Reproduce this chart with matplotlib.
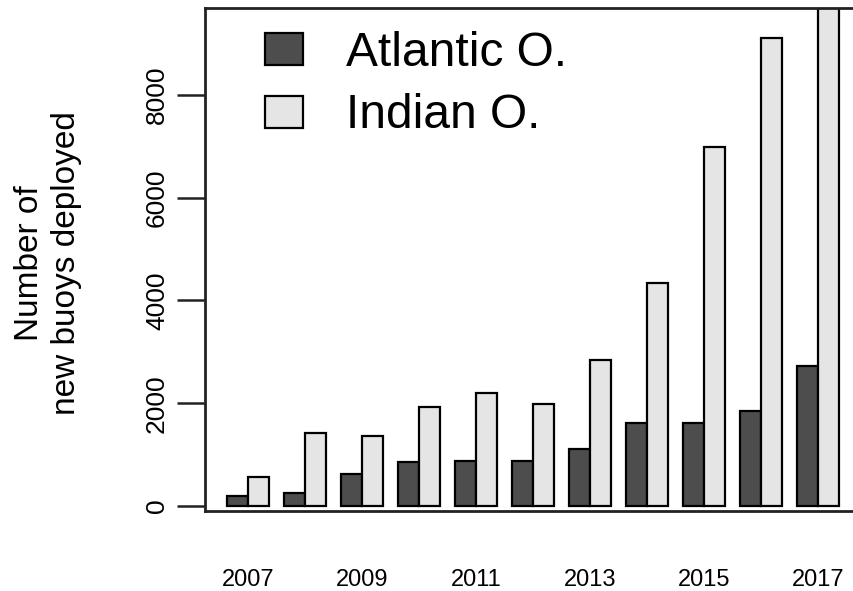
import matplotlib
matplotlib.use("Agg")
import matplotlib.pyplot as plt
import numpy as np

plt.rcParams['font.family'] = ['Liberation Sans', 'DejaVu Sans']

years = [2007, 2008, 2009, 2010, 2011, 2012, 2013, 2014, 2015, 2016, 2017]
atlantic = [200, 250, 620, 850, 880, 880, 1110, 1620, 1620, 1840, 2730]
indian = [560, 1420, 1360, 1920, 2200, 1985, 2840, 4340, 6990, 9110, 10400]
xtick_years = [2007, 2009, 2011, 2013, 2015, 2017]
yticks = [0, 2000, 4000, 6000, 8000]
series_names = ["Atlantic O.", "Indian O."]
colors = ["#4d4d4d", "#e5e5e5"]

W, H = 854, 591
fig = plt.figure(figsize=(W / 100, H / 100), dpi=100)
left_px, right_px, top_px, bottom_px = 205, 880, 8, 511
ax = fig.add_axes([left_px / W, (H - bottom_px) / H,
                   (right_px - left_px) / W, (bottom_px - top_px) / H])

bw = 0.36
x = np.array(years, dtype=float)
ax.bar(x - bw / 2, atlantic, width=bw, color=colors[0], edgecolor="black",
       linewidth=1.6, label=series_names[0])
ax.bar(x + bw / 2, indian, width=bw, color=colors[1], edgecolor="black",
       linewidth=1.6, label=series_names[1])

px_per_unit = 57.0
x0 = 2007 - (248 - left_px) / px_per_unit
ax.set_xlim(x0, x0 + (right_px - left_px) / px_per_unit)
ax.set_ylim(-97, 9690)

ax.set_xticks(xtick_years)
ax.set_xticklabels([str(y) for y in xtick_years])
ax.tick_params(axis='x', length=0, pad=42, labelsize=17)
ax.set_yticks(yticks)
ax.set_yticklabels([str(v) for v in yticks])
ax.tick_params(axis='y', length=20, width=1.8, pad=6, labelsize=19, color="#222222")
for lab in ax.get_yticklabels():
    lab.set_rotation(90)
    lab.set_va('center')

for s in ['left', 'top', 'bottom']:
    ax.spines[s].set_linewidth(2.0)
    ax.spines[s].set_color("#222222")
ax.spines['right'].set_visible(False)

fig.text(48 / W, 1 - 263 / H, "Number of\nnew buoys deployed", rotation=90,
         ha='center', va='center', fontsize=24, linespacing=1.27)

ax.legend(loc='upper left', bbox_to_anchor=(0.060, 0.993),
          frameon=False, fontsize=34.5, handlelength=0.79, handleheight=0.65,
          handletextpad=0.91, labelspacing=0.37, borderaxespad=0.0, borderpad=0.4)

fig.savefig("out.png", dpi=100)
